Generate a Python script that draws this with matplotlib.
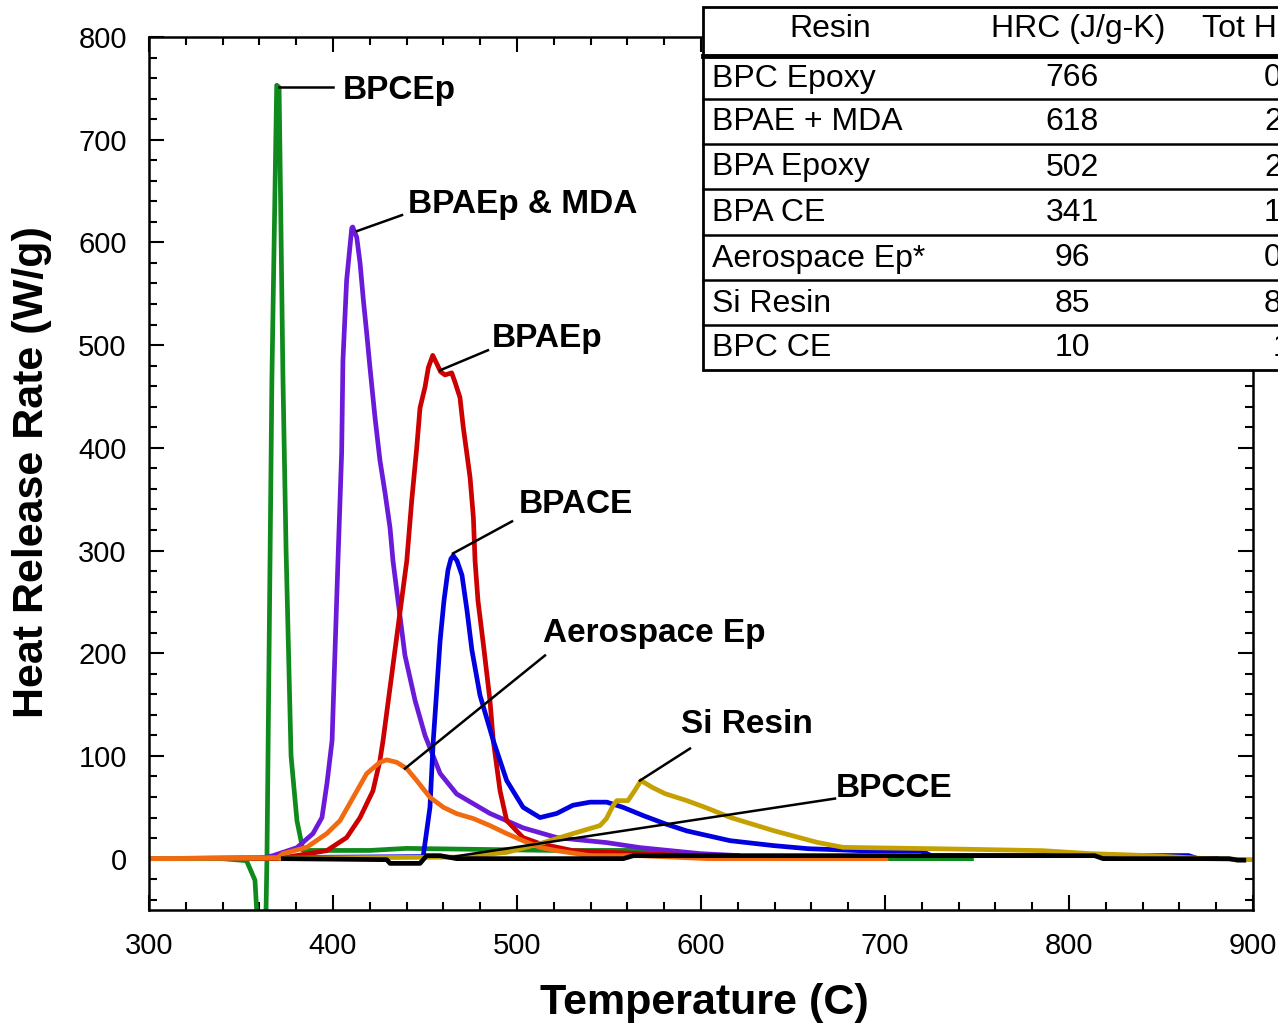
import numpy as np
import matplotlib.pyplot as plt
from matplotlib.lines import Line2D
from matplotlib.patches import Rectangle

plt.rcParams['font.family'] = ['Liberation Sans', 'DejaVu Sans']

# --- curve data (Temperature C, Heat Release Rate W/g) ---
bpcep_t = [300, 340, 353, 357.6, 358.5, 360, 363.6, 364.1, 366.8, 369.4, 370.7, 372.8,
           374.5, 377.2, 380.4, 383.7, 420, 440, 520, 578, 582, 610, 640, 747]
bpcep_q = [0, 0, -2, -21, -50, -150, -50, 0, 468, 753, 751, 468,
           300, 100, 37, 8, 8, 10, 8, 8, 3, 2, 0, 0]

bpaep_mda_t = [300, 360, 367.4, 380.4, 389.1, 394.0, 396.7, 399.5, 402.7, 404.7, 405.4, 407.4,
               410.2, 410.7, 412.9, 414.7, 416.5, 418.3, 420.1, 422.8, 425.5, 428.3, 431.0,
               432.6, 439.1, 444.6, 450, 458.2, 467.2, 485.3, 503.3, 521.6, 548.8, 567,
               599.5, 620]
bpaep_mda_q = [0, 0, 2.9, 10.7, 24.4, 40, 73, 115, 290, 395, 485, 563,
               614, 615, 605, 580, 544, 512, 478, 430, 388, 356, 322,
               290, 198, 154, 120, 83, 63, 44, 30, 20.5, 15.6, 10.7,
               4.9, 3]

bpaep_t = [300, 370, 396.6, 407.4, 414.7, 421.7, 425.5, 427.2, 440.1, 442.8, 445.5, 447.3,
           450, 451.8, 454.2, 456.4, 458.5, 460.9, 464.5, 466.3, 469, 470.8, 472.7, 474.5,
           476.3, 477.2, 478.8, 482.1, 485.3, 487.1, 490.8, 494.4, 503.3, 512.5, 530.4,
           566.8, 621]
bpaep_q = [0, 0, 7.8, 20.5, 40, 66, 95.5, 115, 290, 349, 400, 439,
           459, 478, 490, 482, 474, 471, 473, 464, 449, 420, 395, 371,
           332, 290, 251, 203, 154, 115, 66, 37, 20.5, 14.6, 7.8,
           4.9, 1]

bpace_t = [300, 367, 449, 452.7, 453.6, 454.5, 456, 458.2, 460.3, 462.5, 464.1, 465.4,
           467.4, 470.1, 472.8, 475.5, 479.9, 487.1, 494.4, 503.3, 512.5, 521.6, 530.4,
           539.7, 548.8, 557.6, 568.5, 580.4, 592.3, 615.8, 639.4, 658.2, 686.4, 719.6,
           725, 865, 870, 880]
bpace_q = [0, 1, 2, 50, 83, 115, 154, 212, 251, 281, 292, 295,
           290, 276, 242, 203, 159, 115, 76, 50, 40, 44, 52,
           55, 55, 50, 42, 34, 27, 17.5, 12.7, 9.7, 7.8, 7.8,
           3, 3, 0, 0]

aero_t = [300, 370, 372.8, 385.7, 396.6, 403.8, 410.9, 418.3, 425.5, 429.2, 434.6, 440.1,
          445.5, 452.7, 460, 467.2, 476.3, 485.3, 494.4, 503.3, 512.5, 521.6, 539.7,
          566.8, 603.8, 700.5]
aero_q = [0, 1, 4.9, 11, 24.4, 37, 59.4, 82.8, 93.8, 96.2, 93.8, 87.7,
          76, 59.7, 50, 43.8, 39, 32.2, 24.4, 17.5, 11, 7.8, 2.9,
          2.9, 0, 0]

si_t = [300, 470, 476.3, 494.4, 512.5, 530.4, 545.1, 548.6, 552.2, 554.3, 560.3, 564,
        567.4, 573.4, 580.4, 592.3, 604.1, 615.8, 639.4, 663, 677.2, 733.7, 785.6,
        811.4, 844.6, 875, 899]
si_q = [0, 1.5, 2.9, 6.1, 14.6, 24.4, 32.2, 39, 51.6, 56.5, 56.5, 66.3,
        76, 69.5, 63.3, 56.5, 48.7, 40.2, 27.3, 15.9, 11, 9.5, 7.8,
        4.9, 2.9, 0, -1]

bpcce_t = [373, 429.2, 431, 447.3, 450.9, 458.2, 467.2, 557.8, 563.2, 606.4, 813.9, 818.5,
           887, 891.7, 895]
bpcce_q = [0, -1, -4.6, -4.6, 2.9, 2.9, 0, 0, 2.9, 2.9, 2.9, 0,
           0, -1.5, -1.5]

# curve labels: (text, leader start, leader end, text anchor)
labels = ["BPCEp", "BPAEp & MDA", "BPAEp", "BPACE", "Aerospace Ep", "Si Resin", "BPCCE"]
lead_start = [(370.7, 751), (413.0, 611), (458.2, 475.5), (465.2, 297.2), (439.1, 87.7), (566.8, 76), (462, 1)]
lead_end = [(400, 751), (437.5, 626.6), (484.2, 495), (497.3, 328.4), (515.2, 197.8), (594, 107.2), (672.8, 58.5)]
label_pos = [(405.4, 748), (440.8, 637), (486.4, 506), (501.1, 345), (514.1, 219), (589.1, 131), (673.4, 68)]

# table
tab_header = ["Resin", "HRC (J/g-K)", "Tot HR (kJ/g)"]
tab_resin = ["BPC Epoxy", "BPAE + MDA", "BPA Epoxy", "BPA CE", "Aerospace Ep*", "Si Resin", "BPC CE"]
tab_hrc = ["766", "618", "502", "341", "96", "85", "10"]
tab_tot = ["0.64", "23.1", "26.0", "17.9", "0.66", "8.94", "1.4"]

W, H = 1278, 1024
fig = plt.figure(figsize=(W / 100, H / 100), dpi=100)
ax = fig.add_axes([149 / W, 1 - 910 / H, 1104 / W, 873 / H])

lw = 3.4
ax.plot(bpcep_t, bpcep_q, color='#0f8a1c', lw=lw)
ax.plot(bpaep_mda_t, bpaep_mda_q, color='#6a1ad8', lw=lw)
ax.plot(bpaep_t, bpaep_q, color='#cc0000', lw=lw)
ax.plot(bpace_t, bpace_q, color='#0000e0', lw=lw)
ax.plot(si_t, si_q, color='#c4a000', lw=lw)
ax.plot(aero_t, aero_q, color='#f26a10', lw=lw)
ax.plot(bpcce_t, bpcce_q, color='black', lw=lw)

for lab, s, e, p in zip(labels, lead_start, lead_end, label_pos):
    ax.plot([s[0], e[0]], [s[1], e[1]], color='black', lw=1.8)
    ax.text(p[0], p[1], lab, fontsize=24, fontweight='bold', ha='left', va='center')

ax.set_xlim(300, 900)
ax.set_ylim(-50, 800)
ax.set_xticks(np.arange(300, 901, 100))
ax.set_xticks(np.arange(300, 901, 20), minor=True)
ax.set_yticks(np.arange(0, 801, 100))
ax.set_yticks(np.arange(-40, 801, 20), minor=True)
ax.tick_params(which='both', direction='in', top=True, right=True, width=1.5, labelsize=21)
ax.tick_params(which='major', length=11, pad=16)
ax.tick_params(which='minor', length=5.5)
for sp in ax.spines.values():
    sp.set_linewidth(1.8)

ax.set_xlabel("Temperature (C)", fontsize=31, fontweight='bold')
ax.xaxis.set_label_coords(0.503, -0.106)
ax.xaxis.label.set_va('center')
ax.set_ylabel("Heat Release Rate (W/g)", fontsize=31, fontweight='bold')
ax.yaxis.set_label_coords(-0.106, 0.502)
ax.yaxis.label.set_va('center')

# table drawn over the top right of the plot
def fx(px):
    return px / W

def fy(py):
    return 1 - py / H

tab_top, tab_bot, tab_left = 7, 370, 703
fig.add_artist(Rectangle((fx(tab_left), fy(tab_bot)), 1.2, fy(tab_top) - fy(tab_bot),
                         transform=fig.transFigure, facecolor='white', edgecolor='black',
                         lw=2, zorder=10))
fig.add_artist(Line2D([fx(tab_left), 1.0], [fy(56), fy(56)], color='black', lw=3.5, zorder=11))
row_lines = [99, 144, 189, 235, 280, 325]
for r in row_lines:
    fig.add_artist(Line2D([fx(tab_left), 1.0], [fy(r), fy(r)], color='black', lw=1.8, zorder=11))

col_x = [830, 1078, 1295]
for cx, h in zip(col_x, tab_header):
    fig.text(fx(cx), fy(29), h, fontsize=23, ha='center', va='center', zorder=12)
row_top = [56, 99, 144, 189, 235, 280, 325]
row_bot = row_top[1:] + [370]
for i in range(len(tab_resin)):
    yc = fy((row_top[i] + row_bot[i]) / 2 + 1)
    fig.text(fx(712), yc, tab_resin[i], fontsize=23, ha='left', va='center', zorder=12)
    fig.text(fx(1072), yc, tab_hrc[i], fontsize=23, ha='center', va='center', zorder=12)
    fig.text(fx(col_x[2]), yc, tab_tot[i], fontsize=23, ha='center', va='center', zorder=12)

fig.savefig("out.png", dpi=100)
